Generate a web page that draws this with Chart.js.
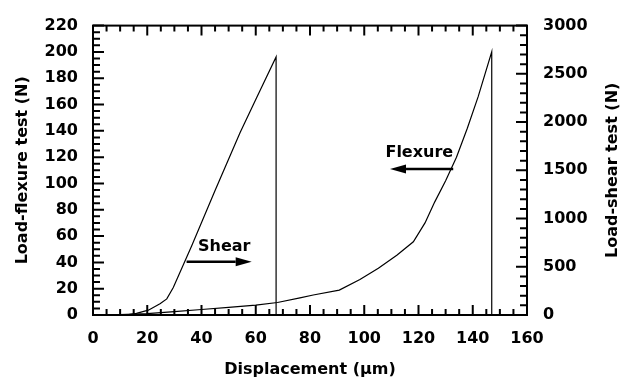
<!DOCTYPE html>
<html>
<head>
<meta charset="utf-8">
<script src="https://cdn.jsdelivr.net/npm/chart.js@4.4.1/dist/chart.umd.min.js"></script>
<style>
  html, body { margin: 0; padding: 0; background: #fff; }
</style>
</head>
<body>
<canvas id="chart" width="631" height="384"></canvas>
<script>
// tick labels
const xTicks = [0, 20, 40, 60, 80, 100, 120, 140, 160];
const flexTicks = [0, 20, 40, 60, 80, 100, 120, 140, 160, 180, 200, 220];
const shearTicks = [0, 500, 1000, 1500, 2000, 2500, 3000];

// flexure test (left axis)
const flexDisp = [0, 10, 20, 30, 40, 50, 60, 68, 76.3, 81.2, 90.8, 98.4, 105.2, 112, 118.1, 122.4, 126, 130, 134, 138, 142, 147, 147];
const flexLoad = [0, 0.3, 1, 2.5, 4.2, 5.8, 7.5, 9.5, 13, 15.2, 18.9, 27, 35.5, 45.4, 55.7, 70, 86, 102, 120, 142, 166, 200, 0];

// shear test (right axis)
const shearDisp = [0, 12, 16, 20.4, 24.7, 27.2, 29.6, 36.4, 45, 54.2, 60.4, 67.5, 67.5];
const shearLoad = [0, 0, 17, 50, 117, 167, 284, 719, 1290, 1889, 2257, 2675, 0];

const font = { family: 'DejaVu Sans', weight: 'bold', size: 16 };

function arrow(ctx, x1, y1, x2, y2) {
  const dir = Math.sign(x2 - x1);
  const head = 16;
  ctx.beginPath();
  ctx.lineWidth = 2.5;
  ctx.moveTo(x1, y1);
  ctx.lineTo(x2 - dir * head, y2);
  ctx.stroke();
  ctx.beginPath();
  ctx.moveTo(x2, y2);
  ctx.lineTo(x2 - dir * head, y2 - 4.5);
  ctx.lineTo(x2 - dir * head, y2 + 4.5);
  ctx.closePath();
  ctx.fill();
}

const frameAndTicks = {
  id: 'frameAndTicks',
  afterDraw(chart) {
    const { ctx, chartArea: a, scales } = chart;
    const x = scales.x, yf = scales.yFlex, ys = scales.yShear;
    ctx.save();
    ctx.strokeStyle = '#000';
    ctx.fillStyle = '#000';
    ctx.lineWidth = 2;
    ctx.strokeRect(a.left, a.top, a.right - a.left, a.bottom - a.top);

    ctx.beginPath();
    for (let v = 0; v <= 160; v += 5) {
      const p = x.getPixelForValue(v);
      const len = v % 20 === 0 ? 10 : 6;
      ctx.moveTo(p, a.bottom); ctx.lineTo(p, a.bottom - len);
      ctx.moveTo(p, a.top); ctx.lineTo(p, a.top + len);
    }
    for (let v = 0; v <= 220; v += 5) {
      const p = yf.getPixelForValue(v);
      const len = v % 20 === 0 ? 11 : 7;
      ctx.moveTo(a.left, p); ctx.lineTo(a.left + len, p);
    }
    for (let v = 0; v <= 3000; v += 100) {
      const p = ys.getPixelForValue(v);
      const len = v % 500 === 0 ? 11 : 7;
      ctx.moveTo(a.right, p); ctx.lineTo(a.right - len, p);
    }
    ctx.stroke();

    // annotations
    ctx.font = 'bold 16px "DejaVu Sans"';
    ctx.textAlign = 'center';
    ctx.textBaseline = 'middle';
    ctx.fillText('Shear', x.getPixelForValue(48.4), yf.getPixelForValue(51.5));
    arrow(ctx, x.getPixelForValue(34.5), yf.getPixelForValue(40.5), x.getPixelForValue(58.5), yf.getPixelForValue(40.5));
    ctx.fillText('Flexure', x.getPixelForValue(120.3), yf.getPixelForValue(123.3));
    arrow(ctx, x.getPixelForValue(132.8), yf.getPixelForValue(110.9), x.getPixelForValue(109.5), yf.getPixelForValue(110.9));

    // right axis title reads bottom to top
    ctx.translate(613, (a.top + a.bottom) / 2);
    ctx.rotate(-Math.PI / 2);
    ctx.fillText('Load-shear test (N)', 0, 0);
    ctx.restore();
  }
};

new Chart(document.getElementById('chart'), {
  type: 'line',
  data: {
    datasets: [
      {
        label: 'Flexure',
        data: flexDisp.map((d, i) => ({ x: d, y: flexLoad[i] })),
        yAxisID: 'yFlex',
        borderColor: '#000',
        borderWidth: 1.2,
        pointRadius: 0,
        tension: 0,
        fill: false
      },
      {
        label: 'Shear',
        data: shearDisp.map((d, i) => ({ x: d, y: shearLoad[i] })),
        yAxisID: 'yShear',
        borderColor: '#000',
        borderWidth: 1.2,
        pointRadius: 0,
        tension: 0,
        fill: false
      }
    ]
  },
  options: {
    responsive: false,
    animation: false,
    layout: { padding: { top: 16, left: 0, right: 0, bottom: 0 } },
    plugins: { legend: { display: false }, tooltip: { enabled: false } },
    scales: {
      x: {
        type: 'linear', min: 0, max: 160,
        afterBuildTicks: s => { s.ticks = xTicks.map(v => ({ value: v })); },
        afterFit: s => { s.height = 69; },
        grid: { display: false, drawTicks: false },
        border: { display: false },
        ticks: { color: '#000', font, padding: 14, maxRotation: 0, autoSkip: false, callback: v => String(v) },
        title: { display: true, text: 'Displacement (μm)', color: '#000', font, padding: { top: 0, bottom: 5 } }
      },
      yFlex: {
        type: 'linear', position: 'left', min: 0, max: 220,
        afterBuildTicks: s => { s.ticks = flexTicks.map(v => ({ value: v })); },
        afterFit: s => { s.width = 93; },
        grid: { display: false, drawTicks: false },
        border: { display: false },
        ticks: { color: '#000', font, padding: 15, autoSkip: false, callback: v => String(v) },
        title: { display: true, text: 'Load-flexure test (N)', color: '#000', font, padding: { top: 13, bottom: 0 } }
      },
      yShear: {
        type: 'linear', position: 'right', min: 0, max: 3000,
        afterBuildTicks: s => { s.ticks = shearTicks.map(v => ({ value: v })); },
        afterFit: s => { s.width = 104; },
        grid: { display: false, drawTicks: false },
        border: { display: false },
        ticks: { color: '#000', font, padding: 16, autoSkip: false, callback: v => String(v) }
      }
    }
  },
  plugins: [frameAndTicks]
});
</script>
</body>
</html>
